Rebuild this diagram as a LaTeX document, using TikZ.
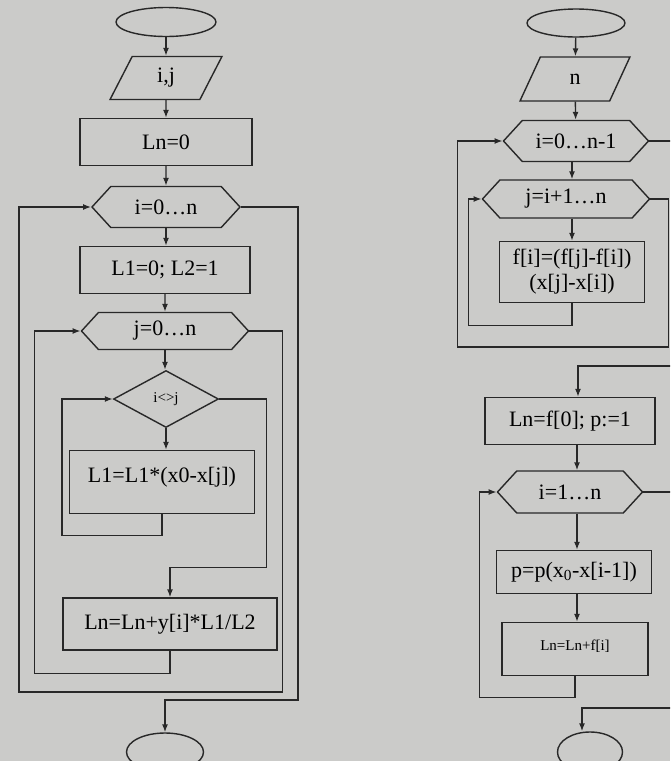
\documentclass[tikz,border=0pt]{standalone}
\usepackage{fontspec}
\setmainfont{Liberation Serif}
\usetikzlibrary{arrows.meta,shapes.geometric,shapes.symbols}
\definecolor{Paper}{RGB}{203,203,201}
\definecolor{Ink}{RGB}{40,40,40}

\begin{document}
\begin{tikzpicture}[x=1pt,y=-1pt,
  box/.style={draw=Ink,line width=1.4pt,align=center,inner sep=2pt,
    font=\fontsize{22}{25}\selectfont},
  term/.style={box,ellipse},
  io/.style={box,trapezium,trapezium left angle=73,trapezium right angle=107,
    trapezium stretches=true},
  hexa/.style={box,signal,signal to=west and east,signal pointer angle=95},
  cond/.style={box,diamond,inner sep=0pt},
  arrow/.style={-{Latex[length=8pt,width=6pt]},line width=1.4pt,draw=Ink}]
\clip (0,0) rectangle (670,761);
\fill[Paper] (0,0) rectangle (670,761);
% left chart
\node[term,minimum width=100pt,minimum height=29pt](lstart) at (166,22){};
\node[io,minimum width=112pt,minimum height=43pt](lin) at (166,78){i,j};
\node[box,minimum width=172pt,minimum height=47pt](lln) at (166,142){Ln=0};
\node[hexa,minimum width=148pt,minimum height=41pt](lfori) at (166,207){i=0…n};
\node[box,minimum width=170pt,minimum height=47pt](linit) at (165,270){L1=0; L2=1};
\node[hexa,minimum width=167pt,minimum height=37pt](lforj) at (165,331){j=0…n};
\node[cond,minimum width=105pt,minimum height=57pt,font=\fontsize{15}{17}\selectfont](lif) at (166,399){i<>j};
\node[box,minimum width=185pt,minimum height=63pt,text depth=14pt](lmul) at (162,482){L1=L1*(x0-x[j])};
\node[box,minimum width=214pt,minimum height=52pt](lsum) at (170,624){Ln=Ln+y[i]*L1/L2};
\node[term,minimum width=77pt,minimum height=38pt](lend) at (165,752){};
\draw[arrow](lstart)--(lin);\draw[arrow](lin)--(lln);\draw[arrow](lln)--(lfori);
\draw[arrow](lfori.south)--(lfori.south |- linit.north);\draw[arrow](linit)--(lforj);
\draw[arrow](lforj.south)--(lforj.south |- lif.north);
\draw[arrow](lif.south)--(lif.south |- lmul.north);
\draw[arrow](lmul.south)--++(0,21)-|([xshift=-51]lif.west)--(lif.west);
\draw[arrow](lif.east)--++(47,0)|-([yshift=30]lsum.north)--(lsum.north);
\draw[arrow](lsum.south)--++(0,23)-|([xshift=-46]lforj.west)--(lforj.west);
\draw[arrow](lforj.east)--++(33,0)--++(0,361)-|([xshift=-72]lfori.west)--(lfori.west);
\draw[arrow](lfori.east)--++(57,0)--++(0,493)-|(lend.north);
% right chart
\node[term,minimum width=98pt,minimum height=28pt](rstart) at (576,23){};
\node[io,minimum width=110pt,minimum height=44pt](rin) at (575,79){n};
\node[hexa,minimum width=145pt,minimum height=41pt](rfori) at (576,141){i=0…n-1};
\node[hexa,minimum width=167pt,minimum height=38pt](rforj) at (566,199){j=i+1…n};
\node[box,minimum width=145pt,minimum height=61pt](rdiv) at (572,272){f[i]=(f[j]-f[i])\\(x[j]-x[i])};
\node[box,minimum width=170pt,minimum height=47pt](rinit) at (570,421){Ln=f[0]; p:=1};
\node[hexa,minimum width=145pt,minimum height=42pt](rfori2) at (570,492){i=1…n};
\node[box,minimum width=155pt,minimum height=43pt](rprod) at (574,572){p=p(x\textsubscript{0}-x[i-1])};
\node[box,minimum width=146pt,minimum height=53pt,text depth=8pt,font=\fontsize{15}{17}\selectfont](rsum) at (575,649){Ln=Ln+f[i]};
\node[term,minimum width=65pt,minimum height=40pt](rend) at (590,752){};
\draw[arrow](rstart)--(rin);\draw[arrow](rin)--(rfori);
\draw[arrow](rfori.south -| rdiv.north)--(rforj.north -| rdiv.north);
\draw[arrow](rforj.south -| rdiv.north)--(rdiv.north);
\draw[arrow](rdiv.south)--++(0,22)-|([xshift=-13]rforj.west)--(rforj.west);
\draw[arrow](rforj.east)--++(18,0)--++(0,148)-|([xshift=-45]rfori.west)--(rfori.west);
\draw[arrow](rfori.east)--++(30,0)|-([xshift=8,yshift=31]rinit.north)--([xshift=8]rinit.north);
\draw[arrow]([xshift=7]rinit.south)--([xshift=7]rinit.south |- rfori2.north);
\draw[arrow]([xshift=7]rfori2.south)--([xshift=7]rfori2.south |- rprod.north);
\draw[arrow]([xshift=3]rprod.south)--([xshift=3]rprod.south |- rsum.north);
\draw[arrow](rsum.south)--++(0,21)-|([xshift=-17]rfori2.west)--(rfori2.west);
\draw[arrow](rfori2.east)--++(40,0)--++(0,216)-|([xshift=-8]rend.north);
\end{tikzpicture}
\end{document}
